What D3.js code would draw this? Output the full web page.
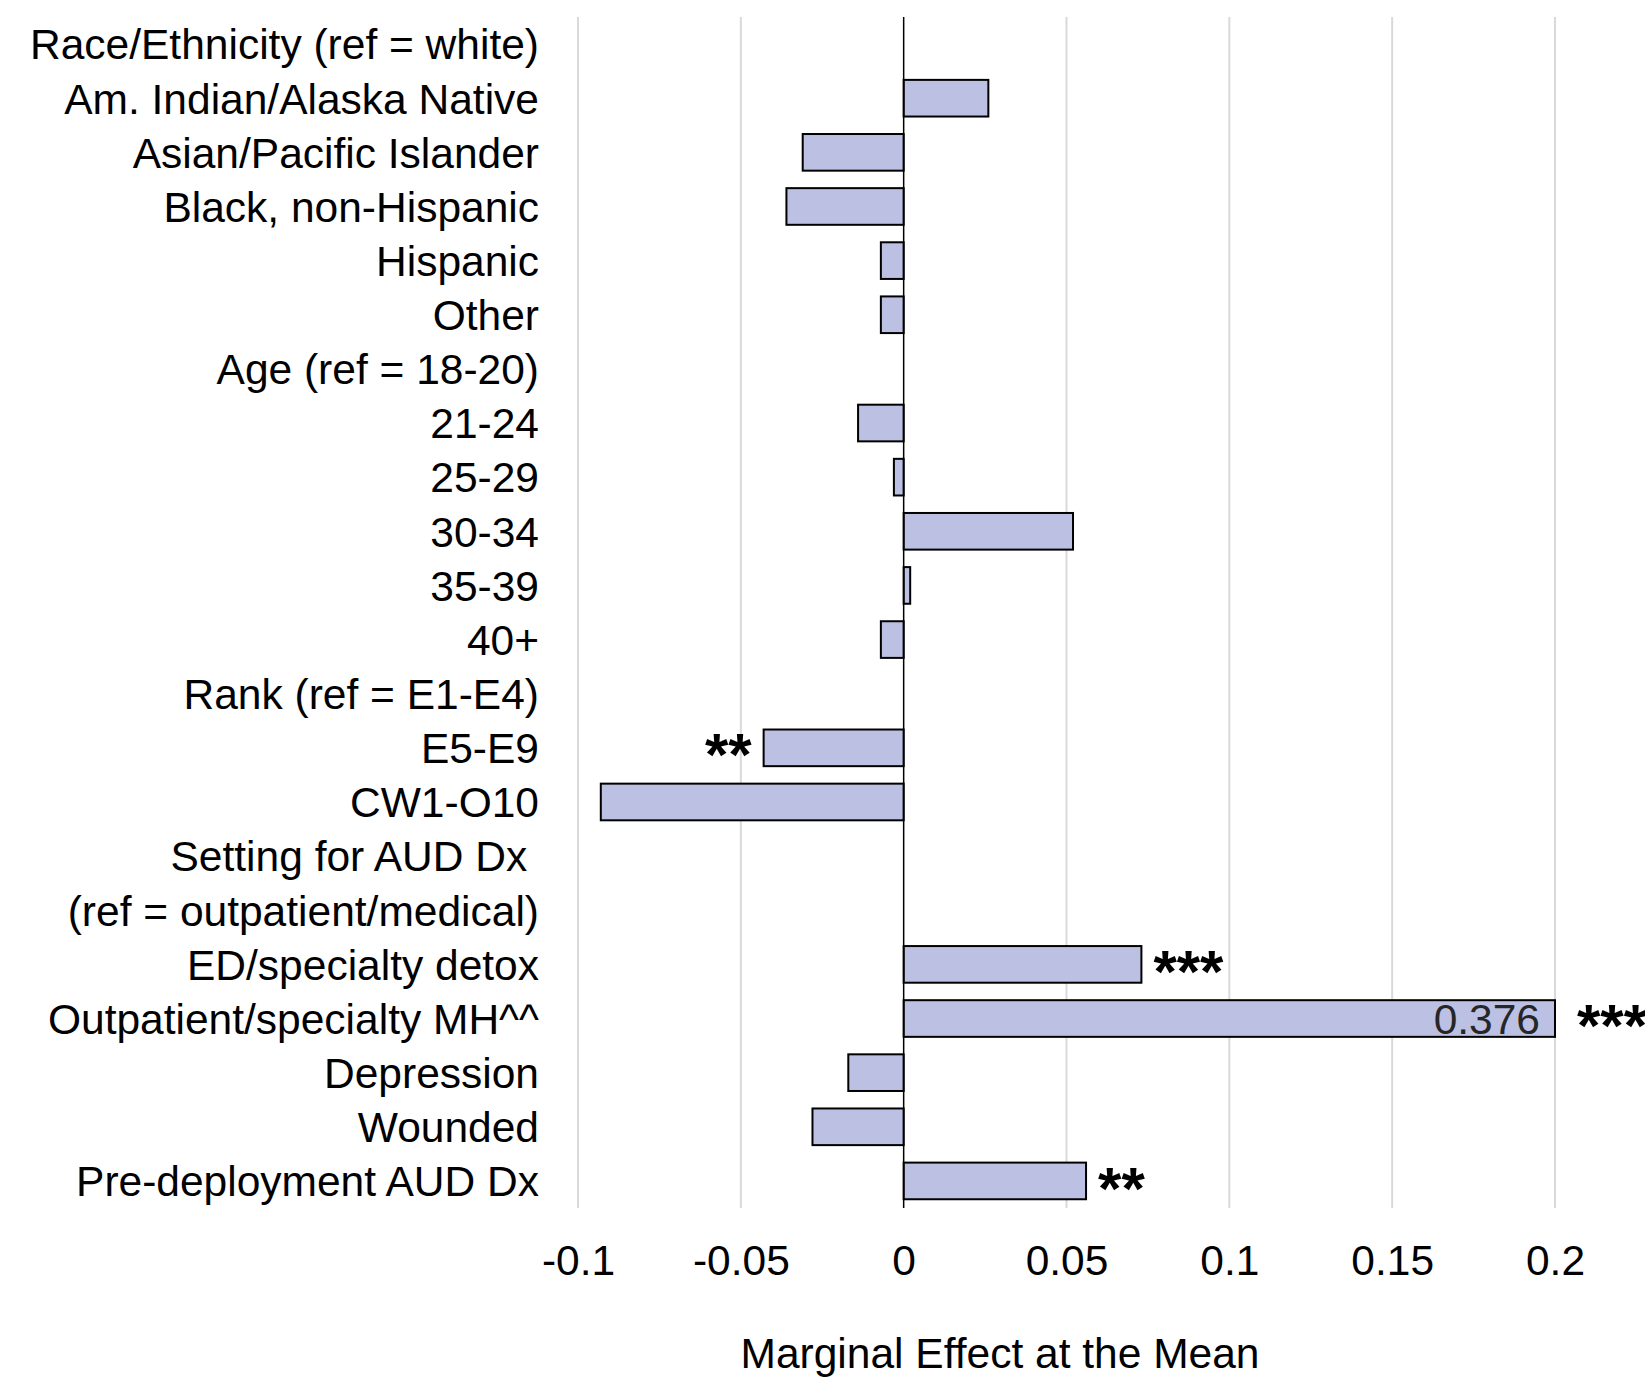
<!DOCTYPE html>
<html>
<head>
<meta charset="utf-8">
<script src="https://cdn.jsdelivr.net/npm/d3@7/dist/d3.min.js"></script>
<style>
	body { margin:0; background:#fff; }
	text { font-family: "Liberation Sans", Arial, sans-serif; fill:#000; white-space: pre; }
</style>
</head>
<body>
<div id="svgContainer"></div>
<script>
// rows of the chart, top to bottom (headers have no value)
var categories = [
	"Race/Ethnicity (ref = white)",
	"Am. Indian/Alaska Native",
	"Asian/Pacific Islander",
	"Black, non-Hispanic",
	"Hispanic",
	"Other",
	"Age (ref = 18-20)",
	"21-24",
	"25-29",
	"30-34",
	"35-39",
	"40+",
	"Rank (ref = E1-E4)",
	"E5-E9",
	"CW1-O10",
	"Setting for AUD Dx ",
	"(ref = outpatient/medical)",
	"ED/specialty detox",
	"Outpatient/specialty MH^^",
	"Depression",
	"Wounded",
	"Pre-deployment AUD Dx"
];
var values = [null, 0.026, -0.031, -0.036, -0.007, -0.007,
	null, -0.014, -0.003, 0.052, 0.002, -0.007,
	null, -0.043, -0.093,
	null, null, 0.073, 0.376, -0.017, -0.028, 0.056];
var stars = ["", "", "", "", "", "", "", "", "", "", "", "",
	"", "**", "", "", "", "***", "***", "", "", "**"];
var xTicks = [-0.1, -0.05, 0, 0.05, 0.1, 0.15, 0.2];
var xTitle = "Marginal Effect at the Mean";

const W = 1645, H = 1379;
const plot = {left:578, right:1555, top:17, bottom:1208};
const fontSize = 42.5;

var data = categories.map(function (c, i) {
	return { name:c, value:values[i], star:stars[i] };
});

var xScale = d3.scaleLinear()
	.domain([xTicks[0], xTicks[xTicks.length-1]])
	.range([plot.left, plot.right])
	.clamp(true); // the 0.376 bar is cut at the axis max

var xMax = xScale.domain()[1];

var yScale = d3.scaleBand()
	.domain(categories)
	.range([plot.top, plot.bottom])
	.paddingInner(0.323)
	.paddingOuter(0.1615);

var svg = d3.select("#svgContainer").append("svg")
	.attr("width", W)
	.attr("height", H);

// vertical gridlines
svg.append("g").attr("class", "grid")
	.selectAll("line")
	.data(xTicks.filter(function (d) { return d !== 0; }))
	.enter()
	.append("line")
	.attr("x1", function (d) { return xScale(d); })
	.attr("x2", function (d) { return xScale(d); })
	.attr("y1", plot.top)
	.attr("y2", plot.bottom)
	.attr("stroke", "#d9d9d9")
	.attr("stroke-width", 2);

// x axis: labels only, no line and no ticks
var xAxis = d3.axisBottom(xScale)
	.tickValues(xTicks)
	.tickSize(0)
	.tickPadding(0)
	.tickFormat(function (d) { return String(d); });

var gx = svg.append("g")
	.attr("transform", "translate(0," + 1275 + ")")
	.call(xAxis);
gx.select(".domain").remove();
gx.selectAll("text")
	.attr("dy", 0)
	.attr("font-size", fontSize)
	.attr("font-family", null)
	.attr("fill", "#000");

// category labels
svg.append("g").attr("class", "labels")
	.selectAll("text")
	.data(data)
	.enter()
	.append("text")
	.attr("x", 539)
	.attr("y", function (d) { return yScale(d.name) + yScale.bandwidth()/2; })
	.attr("dy", "0.36em")
	.attr("text-anchor", "end")
	.attr("font-size", fontSize)
	.text(function (d) { return d.name; });

// bars
var bars = data.filter(function (d) { return d.value !== null; });

svg.append("g").attr("class", "bars")
	.selectAll("rect")
	.data(bars)
	.enter()
	.append("rect")
	.attr("x", function (d) { return Math.min(xScale(0), xScale(d.value)); })
	.attr("width", function (d) { return Math.abs(xScale(d.value) - xScale(0)); })
	.attr("y", function (d) { return yScale(d.name); })
	.attr("height", yScale.bandwidth())
	.attr("fill", "#bcc0e2")
	.attr("stroke", "#000")
	.attr("stroke-width", 2);

// zero line
svg.append("line")
	.attr("x1", xScale(0))
	.attr("x2", xScale(0))
	.attr("y1", plot.top)
	.attr("y2", plot.bottom)
	.attr("stroke", "#000")
	.attr("stroke-width", 1.5);

// value label for the clipped bar
svg.append("g").attr("class", "values")
	.selectAll("text")
	.data(bars.filter(function (d) { return d.value > xMax; }))
	.enter()
	.append("text")
	.attr("x", function (d) { return xScale(d.value) - 15; })
	.attr("y", function (d) { return yScale(d.name) + yScale.bandwidth()/2; })
	.attr("dy", "0.36em")
	.attr("text-anchor", "end")
	.attr("font-size", fontSize)
	.style("fill", "#262626")
	.text(function (d) { return d3.format(".3f")(d.value); });

// significance stars
svg.append("g").attr("class", "stars")
	.selectAll("text")
	.data(bars.filter(function (d) { return d.star !== ""; }))
	.enter()
	.append("text")
	.attr("x", function (d) {
		if (d.value < 0) return xScale(d.value) - 12;
		return xScale(d.value) + (d.value > xMax ? 22 : 12);
	})
	.attr("y", function (d) { return yScale(d.name) + yScale.bandwidth()/2; })
	.attr("dy", "0.46em")
	.attr("text-anchor", function (d) { return d.value < 0 ? "end" : "start"; })
	.attr("font-size", 60)
	.attr("font-weight", "bold")
	.text(function (d) { return d.star; });

// axis title
svg.append("text")
	.attr("x", 1000)
	.attr("y", 1368)
	.attr("text-anchor", "middle")
	.attr("font-size", fontSize)
	.text(xTitle);
</script>
</body>
</html>
